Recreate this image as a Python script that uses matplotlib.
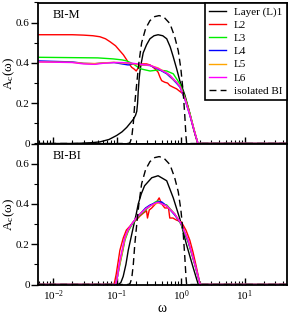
import matplotlib
matplotlib.use("Agg")
import matplotlib.pyplot as plt
from matplotlib.ticker import LogLocator, MultipleLocator, NullFormatter, FixedLocator

plt.rcParams['font.family'] = ['Liberation Serif', 'DejaVu Serif']
plt.rcParams['mathtext.fontset'] = 'custom'
plt.rcParams['mathtext.rm'] = 'Liberation Serif'
plt.rcParams['mathtext.it'] = 'Liberation Serif:italic'

XMIN, XMAX = 0.0058, 45.0

# ---------- isolated BI (same in both panels) ----------
w_iso = [0.0058, 0.15, 0.16, 0.17, 0.18, 0.19, 0.204, 0.22, 0.243, 0.28, 0.328, 0.39, 0.457,
         0.54, 0.675, 0.8, 0.91, 1.0, 1.09, 1.15, 1.2, 1.23, 45]
A_iso = [0, 0, 0.005, 0.03, 0.1, 0.2, 0.3, 0.4, 0.5, 0.57, 0.61, 0.63, 0.635,
         0.628, 0.595, 0.53, 0.46, 0.37, 0.25, 0.14, 0.04, 0, 0]

# ---------- BI-M panel ----------
w_m1 = [0.0058, 0.02, 0.03, 0.04, 0.054, 0.075, 0.099, 0.12, 0.142, 0.16, 0.18, 0.195, 0.204,
        0.21, 0.215, 0.222, 0.229, 0.24, 0.257, 0.29, 0.328, 0.38, 0.44, 0.52, 0.6, 0.68,
        0.76, 0.86, 0.965, 1.155, 1.38, 1.66, 1.85, 45]
A_m1 = [0, 0.0, 0.002, 0.004, 0.008, 0.02, 0.04, 0.058, 0.08, 0.1, 0.12, 0.14, 0.16,
        0.2, 0.26, 0.32, 0.36, 0.4, 0.45, 0.49, 0.52, 0.535, 0.54, 0.535, 0.52, 0.48,
        0.43, 0.37, 0.31, 0.24, 0.15, 0.05, 0, 0]

w_m2 = [0.0058, 0.02, 0.03, 0.042, 0.054, 0.066, 0.078, 0.095, 0.111, 0.126, 0.142, 0.155,
        0.17, 0.185, 0.2, 0.21, 0.225, 0.25, 0.29, 0.33, 0.37, 0.41, 0.44, 0.47, 0.5, 0.56,
        0.62, 0.67, 0.75, 0.86, 0.95, 1.09, 1.2, 1.3, 1.42, 1.55, 1.7, 1.83, 45]
A_m2 = [0.54, 0.54, 0.538, 0.535, 0.53, 0.52, 0.505, 0.485, 0.46, 0.44, 0.415, 0.395,
        0.378, 0.37, 0.36, 0.37, 0.387, 0.395, 0.395, 0.39, 0.378, 0.365, 0.354, 0.33, 0.312,
        0.304, 0.3, 0.288, 0.28, 0.271, 0.26, 0.246, 0.21, 0.18, 0.13, 0.08, 0.035, 0, 0]

w_m3 = [0.0058, 0.05, 0.087, 0.12, 0.142, 0.18, 0.21, 0.24, 0.28, 0.33, 0.44, 0.6, 0.76,
        0.965, 1.155, 1.38, 1.66, 1.85, 45]
A_m3 = [0.428, 0.425, 0.42, 0.415, 0.41, 0.395, 0.38, 0.37, 0.365, 0.36, 0.365, 0.36, 0.346,
        0.296, 0.23, 0.15, 0.05, 0, 0]

w_m456 = [0.0058, 0.02, 0.03, 0.045, 0.06, 0.09, 0.12, 0.15, 0.18, 0.25, 0.33, 0.44, 0.6,
          0.68, 0.75, 0.85, 0.965, 1.155, 1.38, 1.66, 1.85, 45]
A_m4 = [0.41, 0.405, 0.398, 0.396, 0.4, 0.402, 0.395, 0.39, 0.395, 0.39, 0.387, 0.37, 0.346,
        0.33, 0.318, 0.3, 0.28, 0.22, 0.14, 0.05, 0, 0]
A_m5 = [0.405, 0.403, 0.398, 0.397, 0.4, 0.403, 0.4, 0.398, 0.395, 0.39, 0.388, 0.375, 0.35,
        0.335, 0.32, 0.305, 0.285, 0.225, 0.145, 0.055, 0, 0]
A_m6 = [0.405, 0.402, 0.395, 0.393, 0.398, 0.402, 0.402, 0.4, 0.398, 0.392, 0.388, 0.372, 0.35,
        0.338, 0.323, 0.305, 0.283, 0.222, 0.142, 0.052, 0, 0]

# ---------- BI-BI panel ----------
w_b1 = [0.0058, 0.105, 0.115, 0.125, 0.138, 0.15, 0.165, 0.18, 0.2, 0.215, 0.24, 0.27, 0.35,
        0.44, 0.6, 0.76, 0.965, 1.22, 1.55, 1.87, 45]
A_b1 = [0, 0, 0.01, 0.04, 0.1, 0.17, 0.23, 0.285, 0.35, 0.4, 0.45, 0.49, 0.53,
        0.54, 0.515, 0.43, 0.325, 0.2, 0.086, 0, 0]

w_b2 = [0.0058, 0.09, 0.097, 0.105, 0.111, 0.125, 0.14, 0.16, 0.18, 0.2, 0.229, 0.26, 0.29,
        0.3, 0.32, 0.35, 0.4, 0.457, 0.5, 0.56, 0.64, 0.67, 0.75, 0.85, 1.02, 1.2, 1.38,
        1.55, 1.75, 2.0, 45]
A_b2 = [0, 0, 0.05, 0.12, 0.17, 0.23, 0.27, 0.29, 0.31, 0.32, 0.34, 0.355, 0.366,
        0.33, 0.37, 0.38, 0.40, 0.43, 0.40, 0.38, 0.38, 0.33, 0.33, 0.32, 0.31, 0.27, 0.22,
        0.16, 0.086, 0, 0]

w_b3456 = [0.0058, 0.095, 0.102, 0.111, 0.122, 0.133, 0.15, 0.17, 0.2, 0.229, 0.28, 0.33,
           0.4, 0.44, 0.5, 0.6, 0.8, 1.02, 1.3, 1.66, 2.0, 45]
A_b3 = [0, 0, 0.04, 0.1, 0.16, 0.22, 0.265, 0.295, 0.325, 0.345, 0.37, 0.39,
        0.41, 0.415, 0.4, 0.395, 0.35, 0.295, 0.21, 0.095, 0, 0]
A_b4 = [0, 0, 0.045, 0.11, 0.17, 0.23, 0.27, 0.3, 0.33, 0.35, 0.38, 0.395,
        0.405, 0.41, 0.41, 0.39, 0.345, 0.3, 0.215, 0.1, 0, 0]
A_b5 = [0, 0, 0.04, 0.105, 0.165, 0.225, 0.27, 0.3, 0.33, 0.35, 0.375, 0.39,
        0.4, 0.405, 0.4, 0.39, 0.35, 0.3, 0.22, 0.1, 0, 0]
A_b6 = [0, 0, 0.04, 0.12, 0.18, 0.235, 0.275, 0.3, 0.33, 0.35, 0.375, 0.39,
        0.405, 0.408, 0.4, 0.39, 0.35, 0.3, 0.22, 0.1, 0, 0]

labels = ['Layer (L)1', 'L2', 'L3', 'L4', 'L5', 'L6', 'isolated BI']
colors = ['black', '#ff0000', '#00ee00', '#0000ff', '#ffa500', '#ff00ff']
LW = 1.0

fig = plt.figure(figsize=(2.89, 3.16), dpi=100)
L, W, H = 38/289, 248.5/289, 141/316
ax1 = fig.add_axes([L, 1-143.5/316, W, H])
ax2 = fig.add_axes([L, 1-284.5/316, W, H])

top_series = [(w_m1, A_m1), (w_m2, A_m2), (w_m3, A_m3), (w_m456, A_m4), (w_m456, A_m5), (w_m456, A_m6)]
bot_series = [(w_b1, A_b1), (w_b2, A_b2), (w_b3456, A_b3), (w_b3456, A_b4), (w_b3456, A_b5), (w_b3456, A_b6)]

for ax, series, name in [(ax1, top_series, 'BI-M'), (ax2, bot_series, 'BI-BI')]:
    for (w, a), c, lab in zip(series, colors, labels):
        ax.plot(w, a, color=c, lw=LW, label=lab)
    ax.plot(w_iso, A_iso, color='black', lw=LW, ls=(0, (5, 3)), label=labels[-1])
    ax.set_xscale('log')
    ax.set_xlim(XMIN, XMAX)
    ax.set_ylim(0, 0.7)
    ax.yaxis.set_major_locator(FixedLocator([0, 0.2, 0.4, 0.6]))
    ax.set_yticklabels(['0', '0.2', '0.4', '0.6'])
    ax.yaxis.set_minor_locator(MultipleLocator(0.1))
    ax.xaxis.set_major_locator(LogLocator(base=10, numticks=10))
    ax.xaxis.set_minor_locator(LogLocator(base=10, subs=range(2, 10), numticks=20))
    ax.xaxis.set_minor_formatter(NullFormatter())
    ax.tick_params(axis='x', which='major', direction='in', length=5, width=1, labelsize=8, pad=3)
    ax.tick_params(axis='x', which='minor', direction='in', length=3, width=0.8)
    ax.tick_params(axis='y', which='major', direction='out', length=5, width=1, labelsize=8, pad=1)
    ax.tick_params(axis='y', which='minor', direction='out', length=3, width=0.8)
    for s in ax.spines.values():
        s.set_linewidth(1.3)
    ax.set_ylabel(r'A$_\mathrm{c}$(ω)', fontsize=9.5)
    ax.yaxis.set_label_coords(-0.085, 0.5)
    ax.text(0.06, 0.91, name, transform=ax.transAxes, fontsize=9, va='center', ha='left')

ax1.tick_params(axis='x', which='both', labelbottom=False)
ax2.set_xlabel('ω', fontsize=10, labelpad=-1)

leg = ax1.legend(loc='upper right', borderaxespad=0, fontsize=8, frameon=True, fancybox=False,
                 edgecolor='black', framealpha=1, handlelength=1.5, handletextpad=0.7,
                 labelspacing=0.3, borderpad=0.4)
leg.get_frame().set_linewidth(1.2)

fig.savefig('out.png', dpi=100)
